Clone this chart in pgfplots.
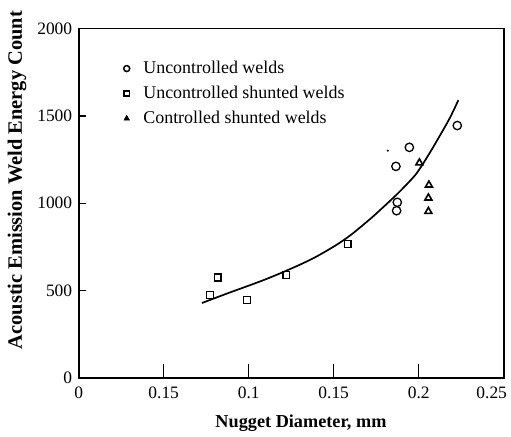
\documentclass[border=0pt]{standalone}
\usepackage{fontspec}
\setmainfont{Liberation Serif}
\usepackage{pgfplots}
\pgfplotsset{compat=1.18}
\begin{document}
\begin{tikzpicture}
\pgfplotsset{common/.style={
  scale only axis,
  width=425bp, height=349bp,
  xmin=0, xmax=0.25, ymin=0, ymax=2000,
  axis line style={line width=1.6bp},
  tick pos=left, tick align=inside,
  /pgf/number format/assume math mode=true,
  tick label style={font=\fontsize{17.5}{20}\selectfont},
}}
\begin{axis}[common,
  major tick length=14bp,
  xtick={0,0.05,0.1,0.15,0.2,0.25},
  xticklabels={0,0.15,0.1,0.15,0.2,\hspace*{-24bp}0.25},
  ytick=\empty,
  xtick style={line width=1.2bp, black},
  xticklabel style={yshift=-6bp},
  xlabel={\textbf{Nugget Diameter, mm}},
  ylabel={\textbf{Acoustic Emission Weld Energy Count}},
  xlabel style={at={(axis description cs:0.523,-0.1297)}, anchor=center, font=\fontsize{18.3}{20}\selectfont},
  ylabel style={at={(axis description cs:-0.1448,0.566)}, anchor=center, font=\fontsize{20.5}{22}\selectfont},
  legend cell align=left,
  legend style={draw=none, fill=none, at={(axis description cs:0.085,0.925)}, anchor=north west,
    font=\fontsize{18}{20}\selectfont, row sep=2bp,
    nodes={inner ysep=3bp, text height=13bp, text depth=4bp}},
  legend image code/.code={\draw[#1] plot coordinates {(0.3cm,0cm)}; \path (0cm,0cm) (0.81cm,0cm);},
]
\addlegendimage{only marks, mark=o, mark size=3bp, mark options={line width=1.5bp, black}}
\addlegendentry{Uncontrolled welds}
\addlegendimage{only marks, mark=square, mark size=2.6bp, mark options={line width=1.5bp, black}}
\addlegendentry{Uncontrolled shunted welds}
\addlegendimage{only marks, mark=triangle*, mark size=3.3bp, mark options={black, fill=black}}
\addlegendentry{Controlled shunted welds}
\addplot[only marks, mark=o, mark size=4.2bp, mark options={line width=1.3bp, black}, forget plot] coordinates {
(0.1866,1211) (0.1874,1005) (0.1870,957) (0.1945,1320) (0.2227,1445)};
\addplot[only marks, mark=square, mark size=3.4bp, mark options={line width=1.3bp, black}, forget plot] coordinates {
(0.0772,473) (0.0817,574) (0.0990,446) (0.1221,589) (0.1582,766)};
\addplot[only marks, mark=triangle, mark size=4bp, mark options={line width=1.6bp, black}, forget plot] coordinates {
(0.2004,1231) (0.2060,1104) (0.2057,1030) (0.2057,953)};
\addplot[black, line width=1.7bp, smooth, tension=0.5, forget plot] coordinates {
(0.0725,428) (0.088,485) (0.1076,555) (0.1214,610) (0.1371,680) (0.1508,756)
(0.1606,822) (0.1733,925) (0.1772,960) (0.1871,1050) (0.1968,1148) (0.2008,1200)
(0.2066,1290) (0.2125,1388) (0.2184,1490) (0.2233,1590)};
\addplot[only marks, mark=*, mark size=0.8bp, black, forget plot] coordinates {(0.1818,1301)};
\end{axis}
\begin{axis}[common,
  major tick length=7bp,
  xtick=\empty,
  ytick={0,500,1000,1500,2000},
  yticklabels={0,500,1000,1500,2000},
  ytick style={line width=1.2bp, black},
  yticklabel style={xshift=-3bp},
]
\end{axis}
\pgfresetboundingbox
\path[use as bounding box] (-78.7bp,-59.3bp) rectangle (432.3bp,377.7bp);
\end{tikzpicture}
\end{document}
